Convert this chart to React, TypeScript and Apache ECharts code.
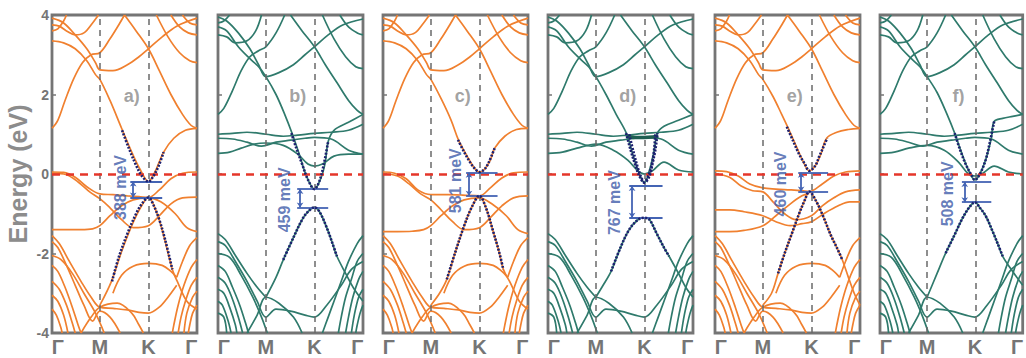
import React, { useEffect, useRef } from "react";
import * as echarts from "echarts";

// ---------- axis / labels ----------
const kTicks = [0, 0.33, 0.665, 1];
const kLabelPos = [0.04, 0.33, 0.665, 0.96];
const kLabels = ["Γ", "M", "K", "Γ"];
const panelLetters = ["a)", "b)", "c)", "d)", "e)", "f)"];
const panelLefts = [52, 218, 383, 548, 715, 880];
const gapLabels = ["388 meV", "459 meV", "581 meV", "767 meV", "460 meV", "508 meV"];
const gapTop = [-0.19, -0.38, 0.03, -0.3, 0.03, -0.2];
const gapBottom = [-0.59, -0.84, -0.55, -1.1, -0.44, -0.71];
const gapArrowX = [0.56, 0.566, 0.593, 0.58, 0.594, 0.594];
const gapLineTo = [0.76, 0.76, 0.79, 0.79, 0.78, 0.78];
const gapTextX = [0.47, 0.46, 0.5, 0.46, 0.45, 0.475];
const gapTextY = [-0.34, -0.65, -0.17, -0.72, -0.25, -0.5];

// ---------- orange (a, c, e) shared bands ----------
const orangeUpper = [
  [[0, 3.92], [0.08, 3.8], [0.16, 3.5], [0.24, 3.15], [0.3, 2.8], [0.33, 2.62], [0.42, 2.6], [0.52, 2.75], [0.6, 2.95], [0.665, 3.15], [0.76, 3.45], [0.86, 3.72], [1, 3.92]],
  [[0.5, 4.0], [0.58, 3.6], [0.665, 3.15], [0.74, 2.6], [0.82, 2.0], [0.9, 1.5], [0.96, 1.22], [1, 1.15]],
  [[0, 1.15], [0.04, 1.35], [0.09, 1.85], [0.15, 2.4], [0.21, 2.8], [0.27, 3.0], [0.33, 3.05], [0.4, 3.4], [0.46, 3.75], [0.5, 4.0]],
  [[0, 3.75], [0.05, 3.72], [0.1, 3.6], [0.16, 3.5], [0.22, 3.55], [0.28, 3.8], [0.32, 4.0]],
  [[0, 3.6], [0.04, 3.65], [0.08, 3.85], [0.1, 4.0]],
  [[0.82, 4.0], [0.88, 3.7], [0.94, 3.55], [1, 3.5]],
  [[0.9, 4.0], [0.95, 3.8], [1, 3.75]],
  [[0.72, 4.0], [0.8, 3.45], [0.88, 3.05], [0.95, 2.85], [1, 2.8]],
];
const orangeLower = [
  [[0.42, -3.0], [0.48, -2.55], [0.56, -2.32], [0.665, -2.25], [0.76, -2.3], [0.82, -2.45], [0.86, -2.6]],
  [[0, -1.55], [0.05, -1.75], [0.12, -2.2], [0.2, -2.7], [0.27, -3.1], [0.33, -3.35], [0.42, -3.38], [0.52, -3.42], [0.6, -3.48], [0.665, -3.5], [0.74, -3.35], [0.8, -3.1], [0.86, -2.8]],
  [[0, -1.7], [0.04, -1.85], [0.1, -2.3], [0.16, -2.8], [0.22, -3.3], [0.28, -3.7], [0.33, -3.45], [0.4, -3.6], [0.47, -4.0]],
  [[0.2, -4.0], [0.27, -3.6], [0.33, -3.35], [0.45, -3.25], [0.55, -3.5], [0.6, -3.8], [0.63, -4.0]],
  [[0, -2.3], [0.04, -2.45], [0.09, -2.85], [0.14, -3.35], [0.18, -3.8], [0.2, -4.0]],
  [[0, -2.7], [0.05, -2.9], [0.1, -3.3], [0.14, -3.75], [0.16, -4.0]],
  [[0, -3.05], [0.04, -3.2], [0.08, -3.55], [0.11, -4.0]],
  [[0, -3.4], [0.03, -3.55], [0.06, -3.85], [0.07, -4.0]],
  [[0, -2.05], [0.06, -2.15], [0.14, -2.5], [0.22, -3.0], [0.3, -3.5], [0.36, -4.0]],
  [[1, -2.15], [0.96, -2.35], [0.91, -2.8], [0.87, -3.3], [0.84, -3.8], [0.83, -4.0]],
  [[1, -2.6], [0.96, -2.8], [0.92, -3.2], [0.89, -3.6], [0.87, -4.0]],
  [[1, -2.95], [0.97, -3.1], [0.93, -3.5], [0.91, -4.0]],
  [[1, -3.3], [0.97, -3.5], [0.95, -3.8], [0.94, -4.0]],
  [[1, -1.6], [0.95, -1.8], [0.9, -2.2], [0.86, -2.6]],
];

// ---------- teal (b, d, f) shared bands ----------
const tealUpper = [
  [[0, 3.95], [0.06, 3.85], [0.14, 3.55], [0.22, 3.15], [0.28, 2.75], [0.33, 2.45], [0.42, 2.55], [0.52, 2.75], [0.6, 3.0], [0.665, 3.2], [0.76, 3.5], [0.86, 3.75], [1, 3.9]],
  [[0.5, 4.0], [0.58, 3.6], [0.665, 3.2], [0.74, 2.75], [0.82, 2.3], [0.9, 1.85], [0.96, 1.6], [1, 1.5]],
  [[0, 1.5], [0.04, 1.65], [0.1, 2.1], [0.16, 2.6], [0.22, 2.95], [0.28, 3.1], [0.33, 3.2], [0.4, 3.55], [0.46, 4.0]],
  [[0, 3.5], [0.06, 3.45], [0.12, 3.3], [0.2, 3.35], [0.26, 3.6], [0.3, 4.0]],
  [[0, 3.8], [0.04, 3.85], [0.08, 4.0]],
  [[0.84, 4.0], [0.9, 3.7], [0.96, 3.55], [1, 3.5]],
  [[0.72, 4.0], [0.8, 3.4], [0.88, 2.95], [0.95, 2.7], [1, 2.65]],
  [[0, 1.0], [0.1, 1.02], [0.2, 1.05], [0.33, 1.0], [0.45, 0.95], [0.55, 0.98], [0.665, 1.02], [0.78, 1.05], [0.9, 1.1], [1, 1.25]],
  [[0, 0.9], [0.1, 0.88], [0.2, 0.8], [0.3, 0.7], [0.4, 0.8], [0.5, 0.85], [0.6, 0.9], [0.665, 0.92], [0.78, 0.88], [0.9, 0.6], [1, 0.5]],
];
const tealLower = [
  [[0, -1.7], [0.05, -1.8], [0.12, -2.2], [0.2, -2.7], [0.27, -3.2], [0.33, -3.6], [0.4, -3.4], [0.5, -3.45], [0.6, -3.55], [0.665, -3.6], [0.75, -3.3], [0.85, -2.8], [0.92, -2.4], [1, -2.2]],
  [[0, -1.5], [0.05, -1.65], [0.12, -2.05], [0.2, -2.5], [0.27, -2.85], [0.33, -3.1]],
  [[0, -2.3], [0.05, -2.45], [0.1, -2.85], [0.15, -3.3], [0.19, -3.75], [0.21, -4.0]],
  [[0, -2.6], [0.05, -2.75], [0.1, -3.15], [0.14, -3.6], [0.17, -4.0]],
  [[0, -2.9], [0.04, -3.0], [0.08, -3.35], [0.12, -3.8], [0.13, -4.0]],
  [[0, -3.2], [0.03, -3.3], [0.07, -3.7], [0.09, -4.0]],
  [[0, -3.5], [0.04, -3.6], [0.06, -4.0]],
  [[0, -2.0], [0.08, -2.1], [0.16, -2.55], [0.24, -3.1], [0.3, -3.6], [0.34, -4.0]],
  [[0.2, -4.0], [0.27, -3.55], [0.33, -3.1], [0.42, -3.25], [0.52, -3.6], [0.58, -4.0]],
  [[1, -1.55], [0.96, -1.75], [0.9, -2.2], [0.85, -2.7], [0.8, -3.2], [0.76, -3.6], [0.72, -4.0]],
  [[1, -2.0], [0.96, -2.2], [0.92, -2.65], [0.88, -3.1], [0.85, -3.6], [0.83, -4.0]],
  [[1, -2.45], [0.97, -2.65], [0.93, -3.1], [0.9, -3.6], [0.88, -4.0]],
  [[1, -2.9], [0.97, -3.1], [0.94, -3.55], [0.92, -4.0]],
  [[1, -3.3], [0.98, -3.5], [0.96, -3.8], [0.95, -4.0]],
];

// ---------- panel-specific bands near the Fermi level ----------
const bandsA = [
  [[0, 3.35], [0.08, 3.3], [0.16, 3.15], [0.24, 2.85], [0.3, 2.5], [0.33, 2.38], [0.4, 1.85], [0.48, 1.15], [0.55, 0.55], [0.61, 0.1], [0.665, -0.19], [0.71, 0.05], [0.77, 0.55], [0.84, 0.9], [0.92, 1.1], [1, 1.15]],
  [[0.33, -3.3], [0.41, -2.7], [0.48, -1.95], [0.55, -1.3], [0.61, -0.85], [0.665, -0.59], [0.72, -0.95], [0.77, -1.55], [0.83, -2.4], [0.87, -2.75], [0.93, -3.2], [1, -3.4]],
  [[0, 0.05], [0.08, 0.04], [0.16, -0.08], [0.24, -0.32], [0.33, -0.5], [0.42, -0.52], [0.52, -0.55], [0.6, -0.57], [0.665, -0.59], [0.74, -0.4], [0.82, -0.12], [0.9, 0.02], [1, 0.05]],
  [[0, 0.02], [0.1, -0.02], [0.18, -0.2], [0.26, -0.45], [0.33, -0.62], [0.4, -0.85], [0.48, -1.15], [0.56, -1.35], [0.665, -1.3], [0.74, -1.05], [0.82, -0.75], [0.9, -0.6], [1, -0.58]],
  [[0, -1.4], [0.1, -1.4], [0.2, -1.4], [0.28, -1.38], [0.33, -1.3], [0.4, -1.05], [0.48, -0.8], [0.56, -0.65], [0.665, -0.6], [0.75, -0.7], [0.85, -1.0], [0.93, -1.35], [1, -1.45]],
];
const conesA = [
  [[0.483, 1.1], [0.53, 0.65], [0.58, 0.22], [0.62, -0.05], [0.665, -0.19], [0.7, -0.05], [0.735, 0.2], [0.77, 0.55]],
  [[0.414, -2.7], [0.46, -2.1], [0.52, -1.5], [0.58, -1.0], [0.62, -0.75], [0.665, -0.59], [0.7, -0.78], [0.74, -1.15], [0.78, -1.65], [0.83, -2.4]],
];
const bandsB = [
  [[0, 3.7], [0.06, 3.6], [0.14, 3.2], [0.22, 2.9], [0.28, 2.7], [0.33, 2.45], [0.4, 2.0], [0.46, 1.5], [0.51, 1.03], [0.56, 0.5], [0.61, -0.05], [0.665, -0.38], [0.71, -0.1], [0.74, 0.3], [0.76, 0.82], [0.8, 1.1], [0.9, 1.3], [1, 1.5]],
  [[0.33, -3.1], [0.4, -2.6], [0.45, -2.16], [0.52, -1.6], [0.58, -1.15], [0.62, -0.95], [0.665, -0.84], [0.7, -0.95], [0.75, -1.35], [0.79, -1.75], [0.82, -2.07], [0.88, -2.5], [0.94, -2.9], [1, -3.2]],
  [[0, 0.52], [0.08, 0.55], [0.16, 0.65], [0.25, 0.75], [0.33, 0.78], [0.45, 0.72], [0.55, 0.5], [0.62, 0.25], [0.665, 0.2], [0.72, 0.25], [0.8, 0.45], [0.9, 0.5], [1, 0.5]],
];
const conesB = [
  [[0.506, 1.03], [0.54, 0.65], [0.58, 0.25], [0.62, -0.14], [0.665, -0.38], [0.7, -0.17], [0.73, 0.25], [0.76, 0.82]],
  [[0.45, -2.16], [0.52, -1.6], [0.58, -1.15], [0.62, -0.95], [0.665, -0.84], [0.7, -0.95], [0.75, -1.35], [0.79, -1.75], [0.82, -2.07]],
];
const bandsC = [
  [[0, 3.35], [0.08, 3.3], [0.16, 3.15], [0.24, 2.85], [0.3, 2.5], [0.33, 2.38], [0.4, 1.9], [0.47, 1.35], [0.52, 0.86], [0.58, 0.45], [0.63, 0.15], [0.665, 0.05], [0.7, 0.12], [0.74, 0.35], [0.77, 0.65], [0.84, 0.95], [0.92, 1.12], [1, 1.15]],
  [[0.33, -3.3], [0.39, -3.0], [0.44, -2.65], [0.5, -1.95], [0.56, -1.3], [0.61, -0.85], [0.665, -0.55], [0.71, -0.85], [0.76, -1.45], [0.8, -1.95], [0.83, -2.4], [0.88, -2.75], [0.94, -3.2], [1, -3.4]],
  [[0, 0.05], [0.08, 0.02], [0.16, -0.12], [0.24, -0.4], [0.33, -0.52], [0.45, -0.52], [0.55, -0.53], [0.665, -0.55], [0.74, -0.35], [0.82, -0.1], [0.9, 0.03], [1, 0.05]],
  [[0, 0.0], [0.1, -0.05], [0.18, -0.25], [0.26, -0.5], [0.33, -0.65], [0.4, -0.9], [0.48, -1.2], [0.56, -1.4], [0.665, -1.35], [0.74, -1.1], [0.82, -0.8], [0.9, -0.6], [1, -0.55]],
  [[0, -1.45], [0.1, -1.45], [0.2, -1.44], [0.28, -1.4], [0.33, -1.3], [0.4, -1.05], [0.48, -0.8], [0.56, -0.65], [0.665, -0.6], [0.75, -0.75], [0.85, -1.05], [0.93, -1.4], [1, -1.5]],
];
const conesC = [
  [[0.517, 0.86], [0.56, 0.55], [0.6, 0.3], [0.63, 0.15], [0.665, 0.05], [0.7, 0.12], [0.73, 0.3], [0.77, 0.65]],
  [[0.44, -2.65], [0.5, -1.95], [0.56, -1.3], [0.61, -0.85], [0.665, -0.55], [0.71, -0.85], [0.76, -1.45], [0.8, -1.95], [0.83, -2.4]],
];
const bandsD = [
  [[0, 3.7], [0.06, 3.6], [0.14, 3.2], [0.22, 2.9], [0.28, 2.7], [0.33, 2.45], [0.4, 2.0], [0.47, 1.5], [0.54, 1.03], [0.58, 0.55], [0.62, 0.1], [0.665, -0.22], [0.7, 0.1], [0.73, 0.55], [0.755, 1.03], [0.8, 1.2], [0.9, 1.35], [1, 1.5]],
  [[0.33, -3.1], [0.38, -2.8], [0.435, -2.45], [0.5, -1.85], [0.56, -1.4], [0.62, -1.15], [0.665, -1.1], [0.7, -1.15], [0.75, -1.5], [0.8, -1.85], [0.835, -2.07], [0.9, -2.5], [0.95, -2.85], [1, -3.1]],
  [[0, 0.52], [0.1, 0.55], [0.2, 0.65], [0.33, 0.75], [0.45, 0.6], [0.55, 0.35], [0.62, 0.08], [0.665, 0.0], [0.72, 0.08], [0.8, 0.3], [0.9, 0.1], [1, 0.05]],
];
const conesD = [
  [[0.538, 1.03], [0.57, 0.6], [0.6, 0.25], [0.63, -0.05], [0.665, -0.22], [0.7, -0.05], [0.72, 0.25], [0.74, 0.6], [0.755, 1.03]],
  [[0.56, 1.0], [0.59, 0.55], [0.62, 0.15], [0.645, -0.1], [0.665, -0.2], [0.685, -0.1], [0.71, 0.15], [0.73, 0.55], [0.74, 1.0]],
  [[0.435, -2.45], [0.5, -1.85], [0.56, -1.4], [0.62, -1.15], [0.665, -1.1], [0.7, -1.15], [0.75, -1.5], [0.8, -1.85], [0.835, -2.07]],
];
const flatD = [[0.54, 0.95], [0.6, 0.92], [0.665, 0.92], [0.72, 0.93], [0.76, 0.95]];
const bandsE = [
  [[0, 3.35], [0.08, 3.3], [0.16, 3.15], [0.24, 2.85], [0.3, 2.5], [0.33, 2.38], [0.4, 1.95], [0.46, 1.5], [0.5, 1.19], [0.56, 0.7], [0.61, 0.3], [0.65, 0.08], [0.69, 0.2], [0.73, 0.5], [0.77, 0.9], [0.84, 1.05], [0.92, 1.12], [1, 1.15]],
  [[0.33, -3.3], [0.39, -3.0], [0.435, -2.5], [0.48, -2.0], [0.53, -1.5], [0.58, -1.0], [0.62, -0.65], [0.65, -0.44], [0.7, -0.7], [0.75, -1.1], [0.8, -1.55], [0.84, -1.85], [0.877, -2.15], [0.92, -2.6], [0.96, -3.0], [1, -3.3]],
  [[0, 0.08], [0.08, 0.06], [0.16, -0.05], [0.24, -0.25], [0.33, -0.35], [0.42, -0.38], [0.52, -0.4], [0.6, -0.42], [0.65, -0.44], [0.74, -0.25], [0.82, -0.05], [0.9, 0.05], [1, 0.08]],
  [[0, 0.0], [0.1, -0.08], [0.18, -0.3], [0.26, -0.42], [0.33, -0.45], [0.4, -0.7], [0.48, -1.0], [0.56, -1.15], [0.665, -1.05], [0.74, -0.8], [0.82, -0.6], [0.9, -0.45], [1, -0.4]],
  [[0, -0.9], [0.1, -0.9], [0.2, -0.95], [0.33, -1.05], [0.42, -1.2], [0.52, -1.3], [0.6, -1.25], [0.665, -1.2], [0.75, -1.0], [0.85, -0.8], [0.93, -0.7], [1, -0.7]],
  [[0, -1.45], [0.1, -1.45], [0.2, -1.42], [0.33, -1.3], [0.42, -1.05], [0.52, -0.75], [0.6, -0.55], [0.65, -0.48]],
];
const conesE = [
  [[0.495, 1.19], [0.54, 0.82], [0.58, 0.5], [0.62, 0.25], [0.65, 0.08], [0.69, 0.2], [0.72, 0.45], [0.75, 0.7], [0.774, 0.9]],
  [[0.435, -2.5], [0.48, -2.0], [0.53, -1.5], [0.58, -1.0], [0.62, -0.65], [0.65, -0.44], [0.7, -0.7], [0.75, -1.1], [0.8, -1.55], [0.84, -1.85], [0.877, -2.15]],
];
const bandsF = [
  [[0, 3.7], [0.06, 3.6], [0.14, 3.2], [0.22, 2.9], [0.28, 2.7], [0.33, 2.45], [0.4, 2.05], [0.47, 1.5], [0.523, 1.03], [0.57, 0.55], [0.62, 0.1], [0.665, -0.15], [0.7, 0.0], [0.74, 0.35], [0.78, 0.9], [0.8, 1.32], [0.86, 1.4], [0.93, 1.45], [1, 1.5]],
  [[0.33, -3.1], [0.4, -2.5], [0.46, -1.99], [0.52, -1.55], [0.58, -1.1], [0.63, -0.82], [0.665, -0.71], [0.7, -0.85], [0.74, -1.05], [0.79, -1.45], [0.83, -1.8], [0.86, -2.07], [0.92, -2.4], [1, -2.8]],
  [[0, 0.52], [0.1, 0.55], [0.2, 0.65], [0.33, 0.72], [0.45, 0.6], [0.55, 0.3], [0.62, 0.0], [0.665, -0.05], [0.72, 0.02], [0.8, 0.2], [0.9, 0.05], [1, 0.0]],
];
const conesF = [
  [[0.523, 1.03], [0.56, 0.62], [0.6, 0.25], [0.64, -0.02], [0.665, -0.15], [0.7, 0.0], [0.74, 0.35], [0.77, 0.8], [0.8, 1.32]],
  [[0.46, -1.99], [0.52, -1.55], [0.58, -1.1], [0.63, -0.82], [0.665, -0.71], [0.7, -0.85], [0.74, -1.05], [0.79, -1.45], [0.83, -1.8], [0.86, -2.07]],
];

const ORANGE = "#f0802f";
const TEAL = "#2f7a6c";
const DOTS = "#1d2170";
const GAPBLUE = "#4464b4";
const GRAY = "#757575";
const FONT = "'Liberation Sans', Arial, sans-serif";

function buildOption() {
  const panelBands = [
    [...orangeUpper, ...orangeLower, ...bandsA],
    [...tealUpper, ...tealLower, ...bandsB],
    [...orangeUpper, ...orangeLower, ...bandsC],
    [...tealUpper, ...tealLower, ...bandsD],
    [...orangeUpper, ...orangeLower, ...bandsE],
    [...tealUpper, ...tealLower, ...bandsF],
  ];
  const panelCones = [conesA, conesB, conesC, conesD, conesE, conesF];
  const panelColors = [ORANGE, TEAL, ORANGE, TEAL, ORANGE, TEAL];

  const grid: any[] = [];
  const xAxis: any[] = [];
  const yAxis: any[] = [];
  const series: any[] = [];

  for (let i = 0; i < 6; i++) {
    grid.push({
      left: panelLefts[i], top: 15, width: 145, height: 318,
      show: true, borderColor: GRAY, borderWidth: 2.8, backgroundColor: "transparent",
    });
    xAxis.push({
      type: "value", gridIndex: i, min: 0, max: 1,
      axisLine: { show: false }, axisTick: { show: false }, splitLine: { show: false },
      axisLabel: {
        customValues: kLabelPos,
        formatter: (v: number) => kLabels[kLabelPos.indexOf(v)] ?? "",
        fontSize: 20, fontWeight: "bold", color: GRAY, fontFamily: FONT, margin: 4,
        showMinLabel: true, showMaxLabel: true,
      },
    });
    yAxis.push({
      type: "value", gridIndex: i, min: -4, max: 4, interval: 2,
      axisLine: { show: false }, splitLine: { show: false },
      axisTick: { show: true, inside: true, length: 4, lineStyle: { color: GRAY, width: 1.5 } },
      axisLabel: {
        show: i === 0, fontSize: 14, fontWeight: "bold", color: GRAY, fontFamily: FONT, margin: 3,
      },
      name: i === 0 ? "Energy (eV)" : "",
      nameLocation: "middle", nameGap: 22,
      nameTextStyle: { fontSize: 25, fontWeight: "bold", color: "#8c8c8c", fontFamily: FONT },
    });

    panelBands[i].forEach((b) => {
      series.push({
        type: "line", xAxisIndex: i, yAxisIndex: i, data: b, showSymbol: false, symbol: "none",
        smooth: 0.35, silent: true, z: 2,
        lineStyle: { color: panelColors[i], width: 1.7 },
      });
    });
    if (i === 3) {
      series.push({
        type: "line", xAxisIndex: i, yAxisIndex: i, data: flatD, symbol: "none", smooth: 0.3, z: 3,
        lineStyle: { color: "#1f5f52", width: 3.5 },
      });
    }
    panelCones[i].forEach((c) => {
      series.push({
        type: "line", xAxisIndex: i, yAxisIndex: i, data: c, symbol: "none", smooth: 0.35, z: 5,
        lineStyle: { color: DOTS, width: 2.6, type: [2, 1.5] },
      });
    });
    // reference lines
    series.push({
      type: "line", xAxisIndex: i, yAxisIndex: i, data: [[0, 0]], symbol: "none", z: 4,
      lineStyle: { opacity: 0 },
      markLine: {
        silent: true, symbol: ["none", "none"], animation: false,
        label: { show: false },
        data: [
          { xAxis: kTicks[1], lineStyle: { color: "#6a6a6a", width: 1.5, type: [6, 5] } },
          { xAxis: kTicks[2], lineStyle: { color: "#6a6a6a", width: 1.5, type: [6, 5] } },
          { yAxis: 0, lineStyle: { color: "#e5362a", width: 2.6, type: [8, 6] } },
        ],
      },
    });
    // gap markers
    const from = gapArrowX[i] - 0.02;
    series.push({
      type: "line", xAxisIndex: i, yAxisIndex: i, data: [[0, 0]], symbol: "none", z: 6,
      lineStyle: { opacity: 0 },
      markLine: {
        silent: true, symbol: ["none", "none"], animation: false, label: { show: false },
        lineStyle: { color: GAPBLUE, width: 1.8, type: "solid" },
        data: [
          [{ coord: [from, gapTop[i]] }, { coord: [gapLineTo[i], gapTop[i]] }],
          [{ coord: [from, gapBottom[i]] }, { coord: [gapLineTo[i], gapBottom[i]] }],
          [
            { coord: [gapArrowX[i], gapTop[i]], symbol: "arrow", symbolSize: 5 },
            { coord: [gapArrowX[i], gapBottom[i]], symbol: "arrow", symbolSize: 5 },
          ],
        ],
      },
    });
    // gap label
    series.push({
      type: "scatter", xAxisIndex: i, yAxisIndex: i, data: [[gapTextX[i], gapTextY[i]]],
      symbolSize: 0, silent: true, z: 7,
      label: {
        show: true, position: "inside", rotate: 90, formatter: gapLabels[i],
        fontSize: 16, fontWeight: "bold", color: "#3d5aa8", fontFamily: FONT,
      },
    });
    // panel letter
    series.push({
      type: "scatter", xAxisIndex: i, yAxisIndex: i, data: [[0.55, 1.95]],
      symbolSize: 0, silent: true, z: 7,
      label: {
        show: true, position: "inside", formatter: panelLetters[i],
        fontSize: 18, fontWeight: "bold", color: "#8a8a8a", fontFamily: FONT,
      },
    });
  }

  return { animation: false, backgroundColor: "#ffffff", grid, xAxis, yAxis, series };
}

export default function App() {
  const ref = useRef<HTMLDivElement>(null);
  useEffect(() => {
    document.body.style.margin = "0";
    const chart = echarts.init(ref.current as HTMLDivElement, null, { renderer: "svg" });
    chart.setOption(buildOption() as any);
    return () => chart.dispose();
  }, []);
  return <div ref={ref} style={{ width: 1026, height: 358 }} />;
}
